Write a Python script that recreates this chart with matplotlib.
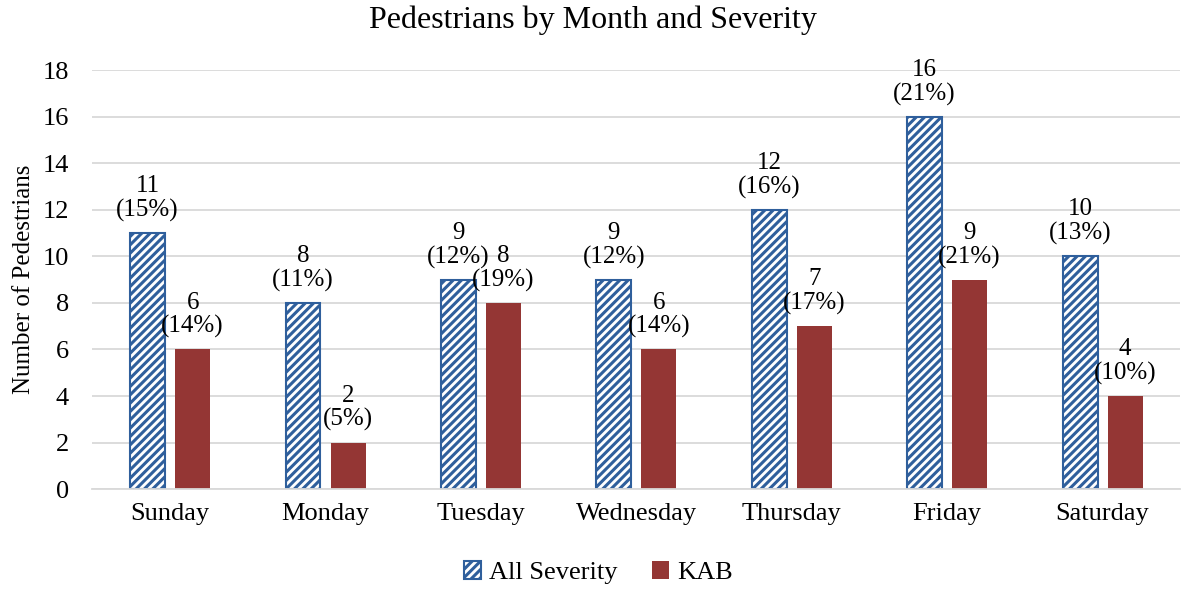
import matplotlib
matplotlib.use('Agg')
import matplotlib.pyplot as plt
import numpy as np

days = ['Sunday', 'Monday', 'Tuesday', 'Wednesday', 'Thursday', 'Friday', 'Saturday']
all_sev = [11, 8, 9, 9, 12, 16, 10]
all_pct = [15, 11, 12, 12, 16, 21, 13]
kab = [6, 2, 8, 6, 7, 9, 4]
kab_pct = [14, 5, 19, 14, 17, 21, 10]

blue = '#2F5F9C'
red = '#943634'

plt.rcParams['font.family'] = ['Liberation Serif', 'DejaVu Serif']
plt.rcParams['hatch.linewidth'] = 2.2

fig = plt.figure(figsize=(11.85, 5.9), dpi=100)
ax = fig.add_axes([0.078, 0.171, 0.918, 0.71])

x = np.arange(len(days))
w = 0.225
b1 = ax.bar(x - 0.145, all_sev, w, color='white', edgecolor=blue, hatch='////', linewidth=1.5, label='All Severity')
b2 = ax.bar(x + 0.145, kab, w, color=red, label='KAB')

for bars, vals, pcts in [(b1, all_sev, all_pct), (b2, kab, kab_pct)]:
    for r, v, p in zip(bars, vals, pcts):
        ax.annotate('{}\n({}%)'.format(v, p), (r.get_x() + r.get_width() / 2, v),
                    xytext=(0, 8), textcoords='offset points',
                    ha='center', va='bottom', fontsize=18, linespacing=1.1)

ax.set_xlim(-0.5, len(days) - 0.5)
ax.set_ylim(0, 18)
ax.set_yticks(range(0, 19, 2))
ax.set_xticks(x)
ax.set_xticklabels(days)
ax.tick_params(axis='both', length=0, labelsize=19)
ax.tick_params(axis='x', pad=10)
ax.tick_params(axis='y', pad=17)
ax.grid(axis='y', color='#D9D9D9', linewidth=1.3)
ax.set_axisbelow(True)
for s in ['top', 'right', 'left']:
    ax.spines[s].set_visible(False)
ax.spines['bottom'].set_color('#D9D9D9')
ax.spines['bottom'].set_linewidth(1.3)

ax.set_ylabel('Number of Pedestrians', fontsize=18)
ax.yaxis.set_label_coords(-0.053, 0.5)
fig.suptitle('Pedestrians by Month and Severity', fontsize=23, x=0.5, y=0.99, va='top')

ax.legend(loc='upper center', bbox_to_anchor=(0.465, -0.115), ncol=2, frameon=False,
          fontsize=19, handlelength=0.65, handleheight=0.65, handletextpad=0.3, columnspacing=1.3)

fig.savefig('out.png', dpi=100)
